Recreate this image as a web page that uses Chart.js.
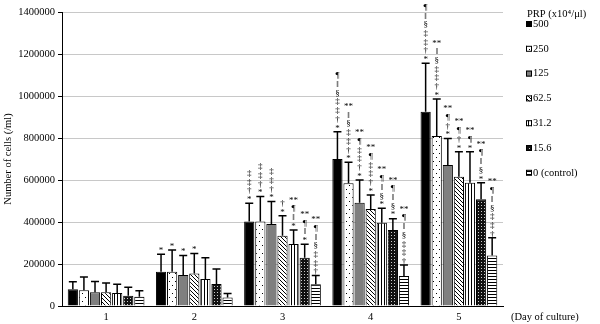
<!DOCTYPE html>
<html>
<head>
<meta charset="utf-8">
<script src="https://cdn.jsdelivr.net/npm/chart.js@4.4.1/dist/chart.umd.min.js"></script>
<style>
  html, body { margin: 0; padding: 0; background: #fff; }
  #wrap { width: 600px; height: 324px; }
</style>
</head>
<body>
<div id="wrap"><canvas id="cellChart"></canvas></div>
<script>
// Data
const days = ['1', '2', '3', '4', '5'];
const doses = ['500', '250', '125', '62.5', '31.2', '15.6', '0 (control)'];
const yTicks = [0, 200000, 400000, 600000, 800000, 1000000, 1200000, 1400000];

// means
const mean500 = [80000, 163000, 402000, 700000, 925000];
const mean250 = [75000, 163000, 402000, 584000, 810000];
const mean125 = [65000, 148000, 390000, 492000, 671000];
const mean62 = [65000, 155000, 335000, 462000, 616000];
const mean31 = [62000, 128000, 295000, 397000, 587000];
const mean15 = [49000, 105000, 230000, 362000, 508000];
const meanCtl = [44000, 41000, 103000, 143000, 240000];

// SD (upper error bars)
const sd500 = [35000, 83000, 87000, 130000, 231000];
const sd250 = [63000, 104000, 119000, 100000, 176000];
const sd125 = [52000, 92000, 108000, 108000, 127000];
const sd62 = [45000, 95000, 95000, 67000, 119000];
const sd31 = [41000, 102000, 67000, 68000, 148000];
const sd15 = [40000, 71000, 64000, 54000, 79000];
const sdCtl = [29000, 19000, 42000, 52000, 85000];

// significance marks, bottom to top
const sig500 = ['', '*', '* † ‡ ‡', '* † ‡ ‡ § ‖ ¶', '* † ‡ ‡ § ‖ ¶'];
const sig250 = ['', '*', '* † ‡ ‡', '* † ‡ ‡ § ‖ **', '* † ‡ ‡ § ‖ **'];
const sig125 = ['', '*', '* † ‡ ‡', '* † ‡ ‡ ¶ **', '* † ¶ **'];
const sig62 = ['', '*', '* †', '* † ‡ ‡ ¶ **', '* † ¶ **'];
const sig31 = ['', '', '* ‖ ¶ **', '* § ‖ ¶ **', '* ¶ **'];
const sig15 = ['', '', '* ‖ ¶ **', '* § ‖ ¶ **', '* § ‖ ¶ **'];
const sigCtl = ['', '', '† ‡ ‡ § ‖ ¶ **', '† ‡ ‡ § ‖ ¶ **', '† ‡ ‡ § ‖ ¶ **'];

const FONT = "'Liberation Serif', 'Times New Roman', serif";

// Fill patterns
function makePattern(kind) {
    const c = document.createElement('canvas');
    const g = c.getContext('2d');
    if (kind === 'dots') {
        c.width = 6; c.height = 8;
        g.fillStyle = '#fff'; g.fillRect(0, 0, 6, 8);
        g.fillStyle = '#000';
        g.fillRect(1, 1, 1, 1);
        g.fillRect(4, 5, 1, 1);
    } else if (kind === 'diag') {
        c.width = 4; c.height = 4;
        g.fillStyle = '#fff'; g.fillRect(0, 0, 4, 4);
        g.fillStyle = '#000';
        for (let i = 0; i < 4; i++) g.fillRect(i, i, 1, 1);
    } else if (kind === 'vert') {
        c.width = 3; c.height = 1;
        g.fillStyle = '#fff'; g.fillRect(0, 0, 3, 1);
        g.fillStyle = '#000'; g.fillRect(0, 0, 1, 1);
    } else if (kind === 'check') {
        c.width = 3; c.height = 3;
        g.fillStyle = '#111'; g.fillRect(0, 0, 3, 3);
        g.fillStyle = '#ccc';
        g.fillRect(1, 1, 1, 1);
    } else if (kind === 'horiz') {
        c.width = 1; c.height = 3;
        g.fillStyle = '#fff'; g.fillRect(0, 0, 1, 3);
        g.fillStyle = '#000'; g.fillRect(0, 0, 1, 1);
    }
    return g.createPattern(c, 'repeat');
}

const fills = [
    '#000000',
    makePattern('dots'),
    '#7f7f7f',
    makePattern('diag'),
    makePattern('vert'),
    makePattern('check'),
    makePattern('horiz')
];
const means = [mean500, mean250, mean125, mean62, mean31, mean15, meanCtl];
const sds = [sd500, sd250, sd125, sd62, sd31, sd15, sdCtl];
const sigs = [sig500, sig250, sig125, sig62, sig31, sig15, sigCtl];

const datasets = doses.map(function (d, i) {
    return {
        label: d,
        data: means[i],
        sd: sds[i],
        sig: sigs[i],
        backgroundColor: fills[i],
        borderColor: '#000',
        borderWidth: 1,
        barPercentage: 0.92,
        categoryPercentage: 0.88
    };
});

// Error bars + significance symbols
const errorBars = {
    id: 'errorBars',
    afterDatasetsDraw(chart) {
        const ctx = chart.ctx;
        const yScale = chart.scales.y;
        ctx.save();
        ctx.strokeStyle = '#000';
        ctx.fillStyle = '#000';
        ctx.font = '9px ' + FONT;
        ctx.textAlign = 'center';
        ctx.textBaseline = 'bottom';
        chart.data.datasets.forEach(function (ds, i) {
            const meta = chart.getDatasetMeta(i);
            meta.data.forEach(function (bar, j) {
                const top = yScale.getPixelForValue(ds.data[j] + ds.sd[j]);
                ctx.lineWidth = 1.5;
                ctx.beginPath();
                ctx.moveTo(bar.x, bar.y);
                ctx.lineTo(bar.x, top);
                ctx.moveTo(bar.x - 4, top);
                ctx.lineTo(bar.x + 4, top);
                ctx.stroke();
                const marks = ds.sig[j] ? ds.sig[j].split(' ') : [];
                marks.forEach(function (m, k) {
                    ctx.fillText(m, bar.x, top + 1 - k * 8.7);
                });
            });
        });
        ctx.restore();
    }
};

// legend on the right + x axis caption
const sideLegend = {
    id: 'sideLegend',
    afterDraw(chart) {
        const ctx = chart.ctx;
        ctx.save();
        ctx.fillStyle = '#000';
        ctx.font = '10.5px ' + FONT;
        ctx.textAlign = 'left';
        ctx.textBaseline = 'middle';
        ctx.fillText('(Day of culture)', 511, 317);
        ctx.fillText('PRP (x10\u2074/\u03bcl)', 527, 14);
        chart.data.datasets.forEach(function (ds, i) {
            const y = 24 + i * 24.8;
            ctx.fillStyle = ds.backgroundColor;
            ctx.fillRect(526, y - 3, 6, 6);
            ctx.strokeStyle = '#000';
            ctx.lineWidth = 1;
            ctx.strokeRect(526.5, y - 2.5, 5, 5);
            ctx.fillStyle = '#000';
            ctx.fillText(ds.label, 533, y);
        });
        ctx.restore();
    }
};

new Chart(document.getElementById('cellChart'), {
    type: 'bar',
    data: { labels: days, datasets: datasets },
    plugins: [errorBars, sideLegend],
    options: {
        responsive: true,
        maintainAspectRatio: false,
        animation: false,
        layout: { padding: { top: 12, right: 97, bottom: 0, left: 0 } },
        plugins: {
            legend: { display: false },
            tooltip: { enabled: false }
        },
        scales: {
            x: {
                grid: { display: false, drawTicks: false },
                border: { color: '#000', width: 1 },
                ticks: { color: '#000', font: { size: 10.5, family: FONT }, padding: 5 },
                afterFit: function (axis) { axis.height = 18; }
            },
            y: {
                min: 0,
                max: 1400000,
                afterBuildTicks: function (axis) {
                    axis.ticks = yTicks.map(function (v) { return { value: v }; });
                },
                afterFit: function (axis) { axis.width = 62; },
                grid: { color: '#c8c8c8', tickColor: '#000', tickLength: 4 },
                border: { color: '#000', width: 1 },
                ticks: {
                    color: '#000',
                    font: { size: 10.5, family: FONT },
                    padding: 3,
                    callback: function (value) { return String(value); }
                },
                title: {
                    display: true,
                    text: 'Number of cells (/ml)',
                    color: '#000',
                    font: { size: 10.5, family: FONT },
                    padding: 2
                }
            }
        }
    }
});
</script>
</body>
</html>
